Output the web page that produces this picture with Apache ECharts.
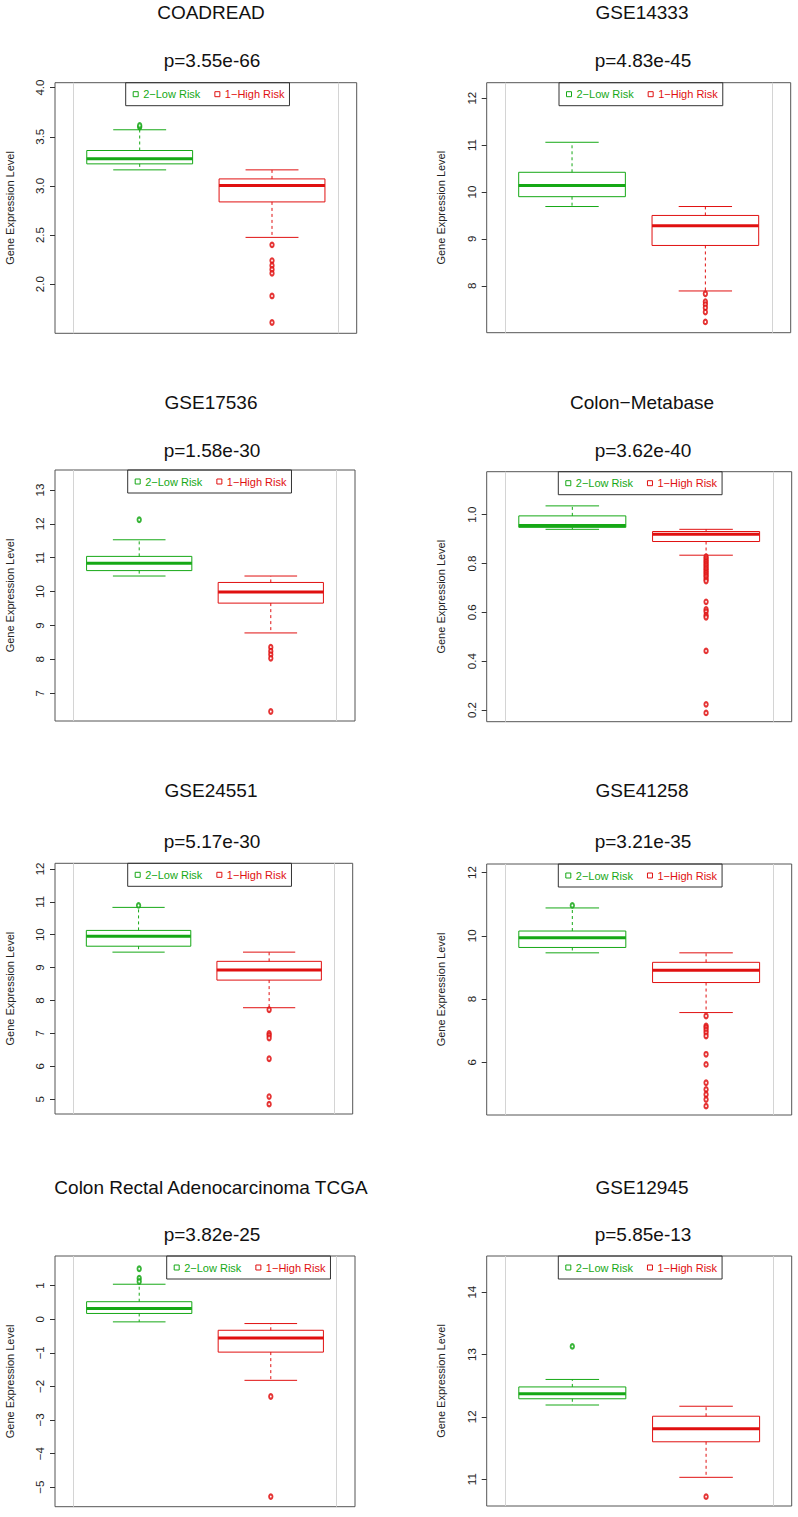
<!DOCTYPE html>
<html>
<head>
<meta charset="utf-8">
<title>Gene Expression Level boxplots</title>
<style>
  html, body { margin: 0; padding: 0; background: #fff; }
  #charts { width: 798px; height: 1517px; }
</style>
</head>
<body>
<div id="charts"></div>
<script src="https://cdn.jsdelivr.net/npm/echarts@6/dist/echarts.min.js"></script>
<script>
// ---- data ----
var titles = ['COADREAD', 'GSE14333', 'GSE17536', 'Colon\u2212Metabase',
              'GSE24551', 'GSE41258', 'Colon Rectal Adenocarcinoma TCGA', 'GSE12945'];
var pvalues = ['p=3.55e-66', 'p=4.83e-45', 'p=1.58e-30', 'p=3.62e-40',
               'p=5.17e-30', 'p=3.21e-35', 'p=3.82e-25', 'p=5.85e-13'];
var groups = ['2\u2212Low Risk', '1\u2212High Risk'];

var yMin = [1.5, 7.0, 6.18, 0.152, 4.55, 4.33, -5.58, 10.57];
var yMax = [4.05, 12.33, 13.59, 1.176, 12.17, 12.27, 1.88, 14.58];
var yTicks = [
  [2.0, 2.5, 3.0, 3.5, 4.0],
  [8, 9, 10, 11, 12],
  [7, 8, 9, 10, 11, 12, 13],
  [0.2, 0.4, 0.6, 0.8, 1.0],
  [5, 6, 7, 8, 9, 10, 11, 12],
  [6, 8, 10, 12],
  [-5, -4, -3, -2, -1, 0, 1],
  [11, 12, 13, 14]
];
var yDec = [1, 0, 0, 1, 0, 0, 0, 0];

// [lower whisker, Q1, median, Q3, upper whisker]
var lowBox = [
  [3.163, 3.224, 3.276, 3.36, 3.571],
  [9.69, 9.90, 10.14, 10.42, 11.06],
  [10.46, 10.62, 10.84, 11.04, 11.53],
  [0.940, 0.948, 0.956, 0.995, 1.036],
  [9.47, 9.65, 9.95, 10.13, 10.83],
  [9.46, 9.63, 9.94, 10.15, 10.88],
  [-0.08, 0.17, 0.32, 0.52, 1.04],
  [12.19, 12.29, 12.37, 12.48, 12.60]
];
var highBox = [
  [2.476, 2.837, 3.003, 3.071, 3.163],
  [7.89, 8.86, 9.28, 9.50, 9.69],
  [8.78, 9.66, 9.99, 10.27, 10.46],
  [0.834, 0.89, 0.92, 0.931, 0.94],
  [7.78, 8.62, 8.93, 9.19, 9.47],
  [7.57, 8.52, 8.91, 9.16, 9.46],
  [-1.82, -0.98, -0.56, -0.33, -0.13],
  [11.03, 11.60, 11.81, 12.01, 12.17]
];
var lowOut = [
  [3.598, 3.615],
  [],
  [12.12],
  [],
  [10.89],
  [10.96],
  [1.50, 1.22, 1.12],
  [13.13]
];
var highOut = [
  [2.40, 2.24, 2.19, 2.15, 2.11, 1.88, 1.61],
  [7.83, 7.66, 7.60, 7.53, 7.44, 7.23],
  [8.36, 8.24, 8.14, 8.03, 6.46],
  [0.828, 0.82, 0.812, 0.805, 0.797, 0.79, 0.782, 0.775, 0.767, 0.76, 0.752, 0.745,
   0.735, 0.728, 0.643, 0.612, 0.603, 0.588, 0.58, 0.442, 0.223, 0.188],
  [7.72, 7.0, 6.94, 6.86, 6.23, 5.08, 4.85],
  [7.46, 7.15, 7.09, 7.01, 6.93, 6.83, 6.25, 5.93, 5.35, 5.14, 4.98, 4.82, 4.61],
  [-2.30, -5.28],
  [10.72]
];

// ---- layout ----
var grids = [
  [55, 82.7, 301.7, 250.6], [486.7, 82.7, 304, 250],
  [55, 470, 300, 251],      [486.7, 471.7, 305, 250],
  [55, 863.3, 297.7, 250.7], [486.7, 864, 305, 251],
  [55, 1256, 300, 250.7],   [486.7, 1256, 305, 250]
];
var legendLeft = [125.7, 559, 127.7, 558.3, 127.7, 558.3, 166.7, 558.3];
var titleY = [12, 402, 790, 1187];
var pY = [60.5, 450.5, 841.7, 1234.3];

var FONT = '"Liberation Sans", Arial, Helvetica, sans-serif';
var GREEN = '#16a816';
var RED = '#e01010';

function renderBox(params, api) {
  var x = api.value(0);
  var c = [];
  for (var i = 1; i <= 5; i++) c.push(api.coord([x, api.value(i)]));
  var cx = c[0][0];
  var hw = api.size([0.4, 0])[0];
  var sw = hw / 2;
  var color = api.visual('color');
  var dash = { stroke: color, lineWidth: 1, lineDash: [3, 3] };
  var solid = { stroke: color, lineWidth: 1 };
  return {
    type: 'group',
    children: [
      { type: 'line', shape: { x1: cx, y1: c[3][1], x2: cx, y2: c[4][1] }, style: dash },
      { type: 'line', shape: { x1: cx, y1: c[1][1], x2: cx, y2: c[0][1] }, style: dash },
      { type: 'line', shape: { x1: cx - sw, y1: c[4][1], x2: cx + sw, y2: c[4][1] }, style: solid },
      { type: 'line', shape: { x1: cx - sw, y1: c[0][1], x2: cx + sw, y2: c[0][1] }, style: solid },
      { type: 'rect', shape: { x: cx - hw, y: c[3][1], width: 2 * hw, height: c[1][1] - c[3][1] },
        style: { fill: 'transparent', stroke: color, lineWidth: 1 } },
      { type: 'line', shape: { x1: cx - hw, y1: c[2][1], x2: cx + hw, y2: c[2][1] },
        style: { stroke: color, lineWidth: 3 } }
    ]
  };
}

function labelFmt(dec) {
  return function (v) {
    var s = Math.abs(v).toFixed(dec);
    return v < 0 ? '\u2212' + s : s;
  };
}

var option = {
  animation: false,
  backgroundColor: '#fff',
  title: [],
  legend: [],
  grid: [],
  xAxis: [],
  yAxis: [],
  series: []
};

for (var p = 0; p < 8; p++) {
  var g = grids[p];
  var row = Math.floor(p / 2);
  var right = p % 2 === 1;

  option.title.push({
    text: titles[p], left: right ? 642 : 211, top: titleY[row] - 10, textAlign: 'center', padding: 0,
    textStyle: { fontSize: 19, fontWeight: 'normal', color: '#111', lineHeight: 20, fontFamily: FONT }
  });
  option.title.push({
    text: pvalues[p], left: right ? 643 : 212, top: pY[row] - 10, textAlign: 'center', padding: 0,
    textStyle: { fontSize: 19, fontWeight: 'normal', color: '#111', lineHeight: 20, fontFamily: FONT }
  });

  option.grid.push({
    left: g[0], top: g[1], width: g[2], height: g[3],
    show: true, borderColor: '#555', borderWidth: 1, backgroundColor: 'transparent'
  });

  option.xAxis.push({
    type: 'value', gridIndex: p, min: 0.36, max: 2.64,
    axisLine: { show: false },
    axisLabel: { show: false },
    axisTick: { show: false, customValues: [0.5, 2.5] },
    splitLine: { show: true, lineStyle: { color: '#d4d4d4', width: 1 } }
  });

  option.yAxis.push({
    type: 'value', gridIndex: p, min: yMin[p], max: yMax[p],
    axisLine: { show: false },
    axisTick: { show: true, length: 5, customValues: yTicks[p], lineStyle: { color: '#333' } },
    axisLabel: {
      customValues: yTicks[p], rotate: 90, margin: 9, fontSize: 11.5, color: '#222',
      fontFamily: FONT, formatter: labelFmt(yDec[p])
    },
    splitLine: { show: false },
    name: 'Gene Expression Level', nameLocation: 'middle', nameGap: 40,
    nameTextStyle: { fontSize: 11, color: '#222', fontFamily: FONT }
  });

  option.legend.push({
    left: legendLeft[p], top: g[1], orient: 'horizontal', selectedMode: false,
    borderColor: '#333', borderWidth: 1, borderRadius: 0, padding: [6, 5, 6, 7],
    itemGap: 14, itemWidth: 5, itemHeight: 5, icon: 'rect',
    textStyle: { fontSize: 11, fontFamily: FONT },
    data: [
      { name: groups[0], textStyle: { color: GREEN },
        itemStyle: { color: 'transparent', borderColor: GREEN, borderWidth: 1 } },
      { name: groups[1], textStyle: { color: RED },
        itemStyle: { color: 'transparent', borderColor: RED, borderWidth: 1 } }
    ]
  });

  option.series.push({
    type: 'custom', name: groups[0], xAxisIndex: p, yAxisIndex: p,
    itemStyle: { color: GREEN }, renderItem: renderBox,
    encode: { x: 0, y: [1, 2, 3, 4, 5] },
    data: [[1].concat(lowBox[p])]
  });
  option.series.push({
    type: 'custom', name: groups[1], xAxisIndex: p, yAxisIndex: p,
    itemStyle: { color: RED }, renderItem: renderBox,
    encode: { x: 0, y: [1, 2, 3, 4, 5] },
    data: [[2].concat(highBox[p])]
  });
  option.series.push({
    type: 'scatter', name: 'low outliers', xAxisIndex: p, yAxisIndex: p,
    symbol: 'emptyCircle', symbolSize: [3.5, 4.5], z: 5,
    itemStyle: { color: GREEN, borderWidth: 0.7, opacity: 0.85 },
    data: lowOut[p].map(function (v) { return [1, v]; })
  });
  option.series.push({
    type: 'scatter', name: 'high outliers', xAxisIndex: p, yAxisIndex: p,
    symbol: 'emptyCircle', symbolSize: [3.5, 4.5], z: 5,
    itemStyle: { color: RED, borderWidth: 0.7, opacity: 0.85 },
    data: highOut[p].map(function (v) { return [2, v]; })
  });
}

var myChart = echarts.init(document.getElementById('charts'), null, { renderer: 'svg' });
myChart.setOption(option);
</script>
</body>
</html>
